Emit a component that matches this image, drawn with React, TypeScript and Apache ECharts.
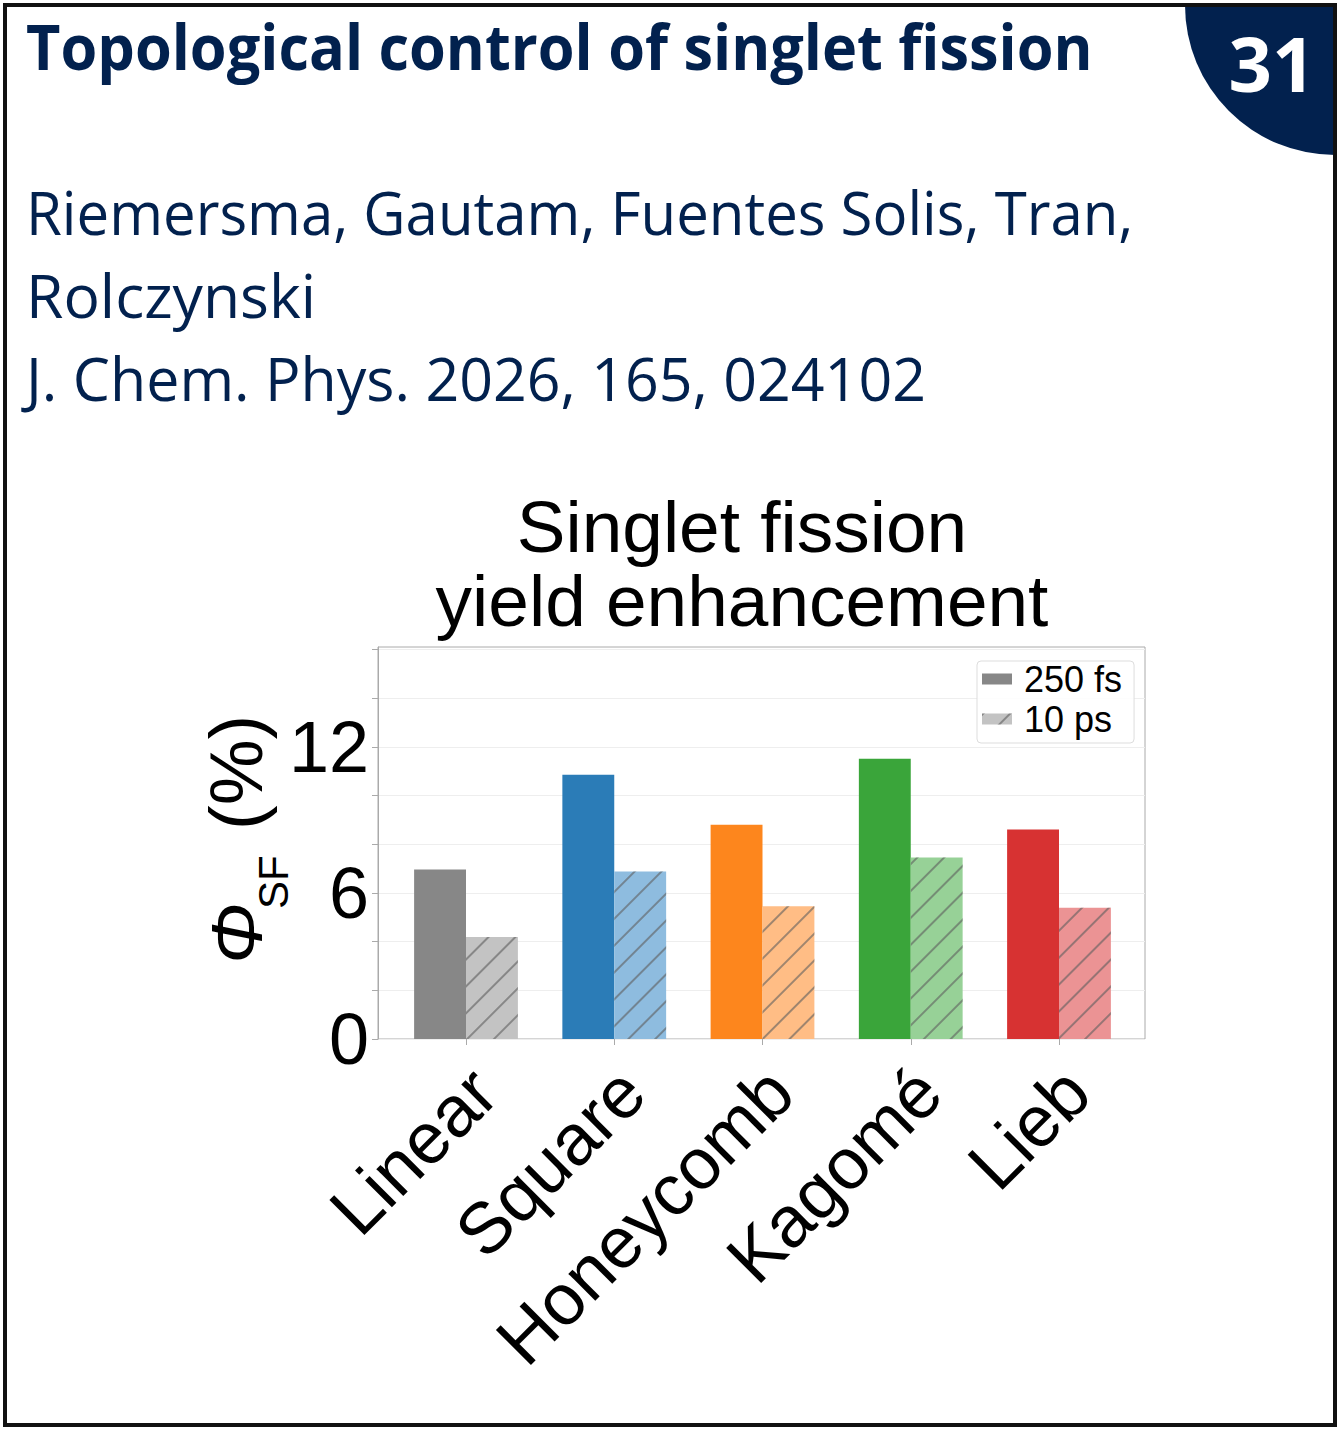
import React, { useEffect, useRef } from 'react';
import * as echarts from 'echarts';

const categories = ['Linear', 'Square', 'Honeycomb', 'Kagomé', 'Lieb'];
const seriesNames = ['250 fs', '10 ps'];
const yield250fs = [6.96, 10.85, 8.8, 11.51, 8.6];
const yield10ps = [4.19, 6.88, 5.45, 7.45, 5.39];
const colors250fs = ['#878787', '#2b7cb7', '#fd861d', '#3aa53a', '#d73232'];
const colors10ps = ['#c3c3c3', '#8ebcdf', '#ffbd85', '#97d197', '#eb9394'];
const yTickValues = [0, 2, 4, 6, 8, 10, 12, 14, 16];
const yLabelValues = [0, 6, 12];
const yMax = 16.1;

const headerTitle = 'Topological control of singlet fission';
const authorLines = [
  'Riemersma, Gautam, Fuentes Solis, Tran,',
  'Rolczynski',
  'J. Chem. Phys. 2026, 165, 024102',
];
const badgeNumber = '31';
const chartTitle = 'Singlet fission\nyield enhancement';
const yLabelParts = ['Φ', 'SF', '(%)'];

const NAVY = '#02214e';
const CHART_FONT = '"Liberation Sans", Arial, sans-serif';
const HEAD_FONT = '"Open Sans", "Noto Sans", sans-serif';

function measure(text: string, font: string): number {
  const c = document.createElement('canvas').getContext('2d');
  if (!c) return 1;
  c.font = font;
  return c.measureText(text).width || 1;
}

export default function App() {
  const ref = useRef<HTMLDivElement>(null);
  useEffect(() => {
    if (!ref.current) return;
    const chart = echarts.init(ref.current, undefined, { renderer: 'svg' });

    const plotLeft = 378;
    const plotRight = 1145;
    const plotTop = 647;
    const plotBottom = 1039;
    const catStep = 148.25;
    const firstCenter = 466;
    const barsLeft = firstCenter - catStep / 2;
    const barsWidth = catStep * categories.length;

    const headScale = 1067 / measure(headerTitle, `bold 63px ${HEAD_FONT}`);
    const authTargets = [1108, 290, 900];
    const authScales = authorLines.map((t, i) => authTargets[i] / measure(t, `60px ${HEAD_FONT}`));

    const decal = {
      symbol: 'rect',
      symbolSize: 1,
      color: 'rgba(95,95,95,0.6)',
      dashArrayX: [1, 0],
      dashArrayY: [1.2, 16.5],
      rotation: -Math.PI / 4,
    };

    const option: any = {
      animation: false,
      backgroundColor: '#ffffff',
      title: {
        text: chartTitle,
        left: 742,
        top: 489,
        textAlign: 'center',
        textStyle: {
          fontFamily: CHART_FONT,
          fontSize: 73,
          fontWeight: 'normal',
          lineHeight: 74,
          color: '#000',
        },
        padding: 0,
      },
      legend: {
        orient: 'vertical',
        left: 977,
        top: 661,
        data: seriesNames,
        icon: 'rect',
        itemWidth: 30,
        itemHeight: 11,
        itemGap: 4,
        padding: [0, 12, 6, 5],
        backgroundColor: 'rgba(255,255,255,0.85)',
        borderColor: '#dddddd',
        borderWidth: 1,
        borderRadius: 4,
        textStyle: {
          fontFamily: CHART_FONT,
          fontSize: 36,
          lineHeight: 36,
          color: '#000',
          padding: [0, 0, 0, 7],
        },
      },
      grid: [
        {
          left: plotLeft,
          top: plotTop,
          width: plotRight - plotLeft,
          height: plotBottom - plotTop,
          show: true,
          borderColor: '#aaaaaa',
          borderWidth: 1,
          backgroundColor: 'transparent',
        },
        {
          left: barsLeft,
          top: plotTop,
          width: barsWidth,
          height: plotBottom - plotTop,
        },
        {
          left: barsLeft + 18,
          top: plotTop,
          width: barsWidth,
          height: plotBottom - plotTop,
        },
      ],
      xAxis: [
        { gridIndex: 0, type: 'value', min: 0, max: 1, show: false },
        {
          gridIndex: 1,
          type: 'category',
          data: categories,
          axisLine: { show: false },
          axisTick: {
            show: true,
            alignWithLabel: true,
            length: 6,
            lineStyle: { color: '#aaaaaa', width: 1 },
          },
          axisLabel: { show: false },
          splitLine: { show: false },
        },
        {
          gridIndex: 2,
          type: 'category',
          data: categories,
          axisLine: { show: false },
          axisTick: { show: false },
          splitLine: { show: false },
          axisLabel: {
            show: true,
            rotate: 45,
            margin: 41,
            interval: 0,
            fontFamily: CHART_FONT,
            fontSize: 72,
            color: '#000',
          },
        },
      ],
      yAxis: [
        {
          gridIndex: 0,
          type: 'value',
          min: 0,
          max: yMax,
          interval: 2,
          axisLine: { show: true, lineStyle: { color: '#aaaaaa', width: 1 } },
          axisTick: {
            show: true,
            length: 6,
            customValues: yTickValues,
            lineStyle: { color: '#aaaaaa', width: 1 },
          },
          axisLabel: {
            show: true,
            margin: 9,
            fontFamily: CHART_FONT,
            fontSize: 72,
            color: '#000',
            formatter: (v: number) => (yLabelValues.indexOf(v) >= 0 ? String(v) : ''),
          },
          splitLine: { show: true, lineStyle: { color: '#eeeeee', width: 1 } },
        },
        { gridIndex: 1, type: 'value', min: 0, max: yMax, show: false, splitLine: { show: false } },
        { gridIndex: 2, type: 'value', min: 0, max: yMax, show: false, splitLine: { show: false } },
      ],
      series: [
        {
          name: seriesNames[0],
          type: 'bar',
          xAxisIndex: 1,
          yAxisIndex: 1,
          barWidth: 0.35 * catStep,
          barGap: '0%',
          itemStyle: { color: colors250fs[0] },
          data: yield250fs.map((v, i) => ({ value: v, itemStyle: { color: colors250fs[i] } })),
        },
        {
          name: seriesNames[1],
          type: 'bar',
          xAxisIndex: 1,
          yAxisIndex: 1,
          barWidth: 0.35 * catStep,
          barGap: '0%',
          itemStyle: { color: colors10ps[0], decal },
          data: yield10ps.map((v, i) => ({ value: v, itemStyle: { color: colors10ps[i], decal } })),
        },
      ],
      graphic: [
        {
          type: 'sector',
          shape: { cx: 1335, cy: 5, r0: 0, r: 150, startAngle: Math.PI / 2, endAngle: Math.PI, clockwise: true },
          style: { fill: NAVY },
          z: 10,
        },
        {
          type: 'text',
          x: 1272,
          y: 62,
          z: 11,
          style: {
            text: badgeNumber,
            fill: '#ffffff',
            fontFamily: HEAD_FONT,
            fontWeight: 'bold',
            fontSize: 76,
            textAlign: 'center',
            textVerticalAlign: 'middle',
            align: 'center',
            verticalAlign: 'middle',
          },
        },
        {
          type: 'text',
          x: 26,
          y: 46,
          scaleX: headScale,
          z: 10,
          style: {
            text: headerTitle,
            fill: NAVY,
            fontFamily: HEAD_FONT,
            fontWeight: 'bold',
            fontSize: 63,
            textAlign: 'left',
            textVerticalAlign: 'middle',
            align: 'left',
            verticalAlign: 'middle',
          },
        },
        ...authorLines.map((t, i) => ({
          type: 'text',
          x: 26,
          y: [212, 295, 377][i],
          scaleX: authScales[i],
          z: 10,
          style: {
            text: t,
            fill: NAVY,
            fontFamily: HEAD_FONT,
            fontSize: 60,
            textAlign: 'left',
            textVerticalAlign: 'middle',
            align: 'left',
            verticalAlign: 'middle',
          },
        })),
        {
          type: 'group',
          x: 240,
          y: 843,
          rotation: Math.PI / 2,
          z: 10,
          children: [
            {
              type: 'text',
              x: -121,
              y: -4,
              style: {
                text: yLabelParts[0],
                fill: '#000',
                fontFamily: CHART_FONT,
                fontStyle: 'italic',
                fontSize: 73,
                textAlign: 'left',
                textVerticalAlign: 'middle',
                align: 'left',
                verticalAlign: 'middle',
              },
            },
            {
              type: 'text',
              x: -66,
              y: 33,
              style: {
                text: yLabelParts[1],
                fill: '#000',
                fontFamily: CHART_FONT,
                fontSize: 42,
                textAlign: 'left',
                textVerticalAlign: 'middle',
                align: 'left',
                verticalAlign: 'middle',
              },
            },
            {
              type: 'text',
              x: 13,
              y: -4,
              style: {
                text: yLabelParts[2],
                fill: '#000',
                fontFamily: CHART_FONT,
                fontSize: 74,
                textAlign: 'left',
                textVerticalAlign: 'middle',
                align: 'left',
                verticalAlign: 'middle',
              },
            },
          ],
        },
        {
          type: 'rect',
          z: 20,
          shape: { x: 5, y: 5, width: 1330, height: 1420 },
          style: { fill: 'none', stroke: '#111111', lineWidth: 4 },
        },
      ],
    };

    chart.setOption(option);
    return () => chart.dispose();
  }, []);

  return (
    <div
      ref={ref}
      style={{ position: 'absolute', left: 0, top: 0, width: 1343, height: 1434, background: '#fff' }}
    />
  );
}
